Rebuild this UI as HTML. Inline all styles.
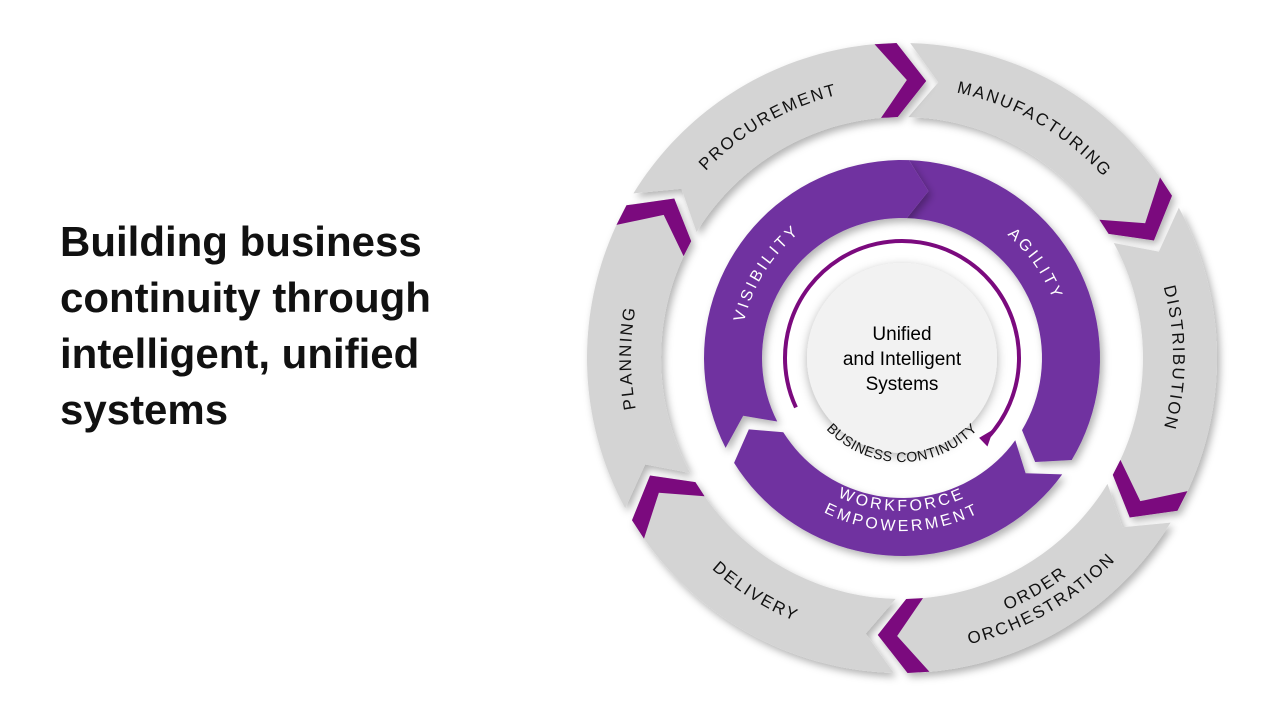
<!DOCTYPE html>
<html><head><meta charset="utf-8"><style>
html,body{margin:0;padding:0;background:#fff;width:1273px;height:717px;overflow:hidden}
h1{position:absolute;left:60px;top:214px;margin:0;font:42px/56px "Liberation Sans",sans-serif;font-weight:bold;color:#111}
svg{position:absolute;left:0;top:0}
</style></head><body>
<h1>Building business<br>continuity through<br>intelligent, unified<br>systems</h1>
<svg id="s" width="1273" height="717" xmlns="http://www.w3.org/2000/svg">
<defs>
<filter id="sh" x="-20%" y="-20%" width="140%" height="140%"><feDropShadow dx="3" dy="4" stdDeviation="4" flood-color="#000" flood-opacity="0.3"/></filter>
<filter id="sh2" x="-20%" y="-20%" width="140%" height="140%"><feDropShadow dx="0" dy="3" stdDeviation="5" flood-color="#000" flood-opacity="0.3"/></filter>
</defs>
<g id="g"></g>
</svg>
<script>
var cx=902,cy=358,NS="http://www.w3.org/2000/svg",g=document.getElementById('g');
function P(a,r){a=a*Math.PI/180;return [(cx+r*Math.sin(a)).toFixed(2),(cy-r*Math.cos(a)).toFixed(2)];}
function arcPts(a0,a1,r,n){var s=[];for(var i=0;i<=n;i++){s.push(P(a0+(a1-a0)*i/n,r).join(','));}return s;}
function poly(pts,fill,filt){var e=document.createElementNS(NS,'polygon');e.setAttribute('points',pts.join(' '));e.setAttribute('fill',fill);if(filt)e.setAttribute('filter',filt);g.appendChild(e);}
function seg(a0,a1,R1,R2,d,fill,filt){var Rm=(R1+R2)/2;var pts=arcPts(a0,a1,R2,40);pts.push(P(a1+d,Rm).join(','));pts=pts.concat(arcPts(a1,a0,R1,40));pts.push(P(a0+d,Rm).join(','));poly(pts,fill,filt);}
function chev(a1,R1,R2,d,w,fill){var Rm=(R1+R2)/2;poly([P(a1,R2),P(a1+d,Rm),P(a1,R1),P(a1-w,R1),P(a1+d-w,Rm),P(a1-w,R2)].map(function(p){return p.join(',')}),fill);}
function txt(c,r,str,size,col,ls,bottom,span,wt){span=span||70;var id='p'+Math.random().toString(36).slice(2);var p=document.createElementNS(NS,'path');var a0,a1,sw;if(bottom){a0=c+span;a1=c-span;sw=0;}else{a0=c-span;a1=c+span;sw=1;}var s=P(a0,r),e=P(a1,r);p.setAttribute('d','M'+s+' A'+r+','+r+' 0 0,'+sw+' '+e);p.setAttribute('id',id);p.setAttribute('fill','none');document.querySelector('defs').appendChild(p);var t=document.createElementNS(NS,'text');t.setAttribute('font-family','Liberation Sans, sans-serif');t.setAttribute('font-size',size);t.setAttribute('fill',col);t.setAttribute('letter-spacing',ls);if(wt)t.setAttribute('font-weight',wt);var tp=document.createElementNS(NS,'textPath');tp.setAttribute('href','#'+id);tp.setAttribute('startOffset','50%');tp.setAttribute('text-anchor','middle');tp.textContent=str;t.appendChild(tp);g.appendChild(t);}
var R1=241,R2=315,d=6,gap=2.5;
for(var k=0;k<6;k++){var a0=k*60-1+gap,a1=(k+1)*60-1;seg(a0,a1,R1,R2,d,'#d4d4d4','url(#sh)');}
for(var k=0;k<6;k++){chev((k+1)*60-1,R1,R2,d,4,'#7b0a7e');}
var r1=140,r2=198;
seg(2,121,r1,r2,7,'#7030a0','url(#sh)');
seg(126,238,r1,r2,7,'#7030a0','url(#sh)');
seg(243,362,r1,r2,7,'#7030a0','url(#sh)');
var c=document.createElementNS(NS,'circle');c.setAttribute('cx',cx);c.setAttribute('cy',cy);c.setAttribute('r',95);c.setAttribute('fill','#f2f2f2');c.setAttribute('filter','url(#sh2)');g.appendChild(c);
var ap=document.createElementNS(NS,'path');var s=P(245,117),e=P(133,117);ap.setAttribute('d','M'+s+' A117,117 0 1,1 '+e);ap.setAttribute('fill','none');ap.setAttribute('stroke','#7b0a7e');ap.setAttribute('stroke-width','4');g.appendChild(ap);
var h1=P(136,123),h2=P(136,111),tip=P(128,116);poly([h1.join(','),tip.join(','),h2.join(',')],'#7b0a7e');
txt(330,271,'PROCUREMENT',17,'#111','2px',false);
txt(30,271,'MANUFACTURING',17,'#111','2px',false);
txt(90,271,'DISTRIBUTION',17,'#111','2px',false);
txt(270,271,'PLANNING',17,'#111','2px',false);
txt(212,284,'DELIVERY',17,'#111','2px',true);
txt(150,273,'ORDER',17,'#111','2px',true);
txt(150,294,'ORCHESTRATION',17,'#111','2px',true);
txt(302,162,'VISIBILITY',16,'#fff','3px',false);
txt(55,162,'AGILITY',16,'#fff','3px',false);
txt(180,153,'WORKFORCE',16,'#fff','3px',true);
txt(180,173,'EMPOWERMENT',16,'#fff','3px',true);
txt(180,104,'BUSINESS CONTINUITY',14,'#111','0.5px',true);
['Unified','and Intelligent','Systems'].forEach(function(l,i){var t=document.createElementNS(NS,'text');t.setAttribute('x',cx);t.setAttribute('y',340+i*25);t.setAttribute('text-anchor','middle');t.setAttribute('font-family','Liberation Sans, sans-serif');t.setAttribute('font-size','19');t.setAttribute('fill','#000');t.textContent=l;g.appendChild(t);});
</script>
</body></html>
